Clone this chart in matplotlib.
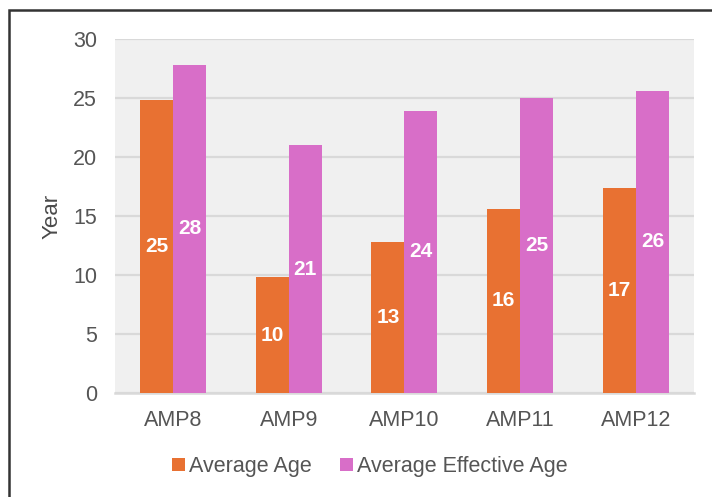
import numpy as np
import matplotlib
matplotlib.use('Agg')
import matplotlib.pyplot as plt
from matplotlib.patches import Rectangle

plt.rcParams['font.family'] = ['Liberation Sans', 'DejaVu Sans']

# Age data per AMP unit (years)
units = ['AMP8', 'AMP9', 'AMP10', 'AMP11', 'AMP12']
average_age = [24.8, 9.8, 12.8, 15.6, 17.4]
effective_age = [27.8, 21.0, 23.9, 25.0, 25.6]

orange = '#E87132'
purple = '#D86EC8'
text_grey = '#555555'

fig = plt.figure(figsize=(7.12, 4.97), dpi=100)
ax = fig.add_axes([0.1615, 0.2093, 0.8132, 0.7123])
ax.set_facecolor('#F0F0F0')

x = np.arange(len(units))
w = 0.285
b1 = ax.bar(x - w / 2, average_age, w, color=orange, label='Average Age', zorder=3)
b2 = ax.bar(x + w / 2, effective_age, w, color=purple, label='Average Effective Age', zorder=3)

# value labels in the middle of each bar
for bars in (b1, b2):
    for rect in bars:
        h = rect.get_height()
        ax.text(rect.get_x() + rect.get_width() / 2, h / 2, '{:.0f}'.format(h),
                ha='center', va='center', color='white', fontsize=15,
                fontweight='bold', zorder=4)

ax.set_xlim(-0.5, 4.5)
ax.set_ylim(0, 30)
ax.set_yticks(range(0, 31, 5))
ax.set_xticks(x)
ax.set_xticklabels(units)
ax.yaxis.grid(True, color='#D9D9D9', linewidth=1.6, zorder=1)
ax.set_axisbelow(True)
for side in ['top', 'right', 'left']:
    ax.spines[side].set_visible(False)
ax.spines['bottom'].set_color('#D9D9D9')
ax.spines['bottom'].set_linewidth(1.8)
ax.tick_params(axis='both', length=0, labelsize=15.5, colors=text_grey)
ax.tick_params(axis='y', pad=13)
ax.tick_params(axis='x', pad=12)

ax.set_ylabel('Year', fontsize=16, color='#4a4a4a')
ax.yaxis.set_label_coords(-0.091, 0.5)

fig.legend(handles=[b1, b2], loc='center', bbox_to_anchor=(0.519, 0.061),
           ncol=2, frameon=False, fontsize=15.5, labelcolor=text_grey,
           handlelength=0.6, handleheight=0.6, handletextpad=0.2,
           columnspacing=1.3)

# outer frame around the chart
fig.patches.append(Rectangle((8.5 / 712, -0.05), 1.1, 1 - 9.5 / 497 + 0.05,
                             transform=fig.transFigure, fill=False,
                             edgecolor='#333333', linewidth=1.8))

fig.savefig('out.png', dpi=100)
